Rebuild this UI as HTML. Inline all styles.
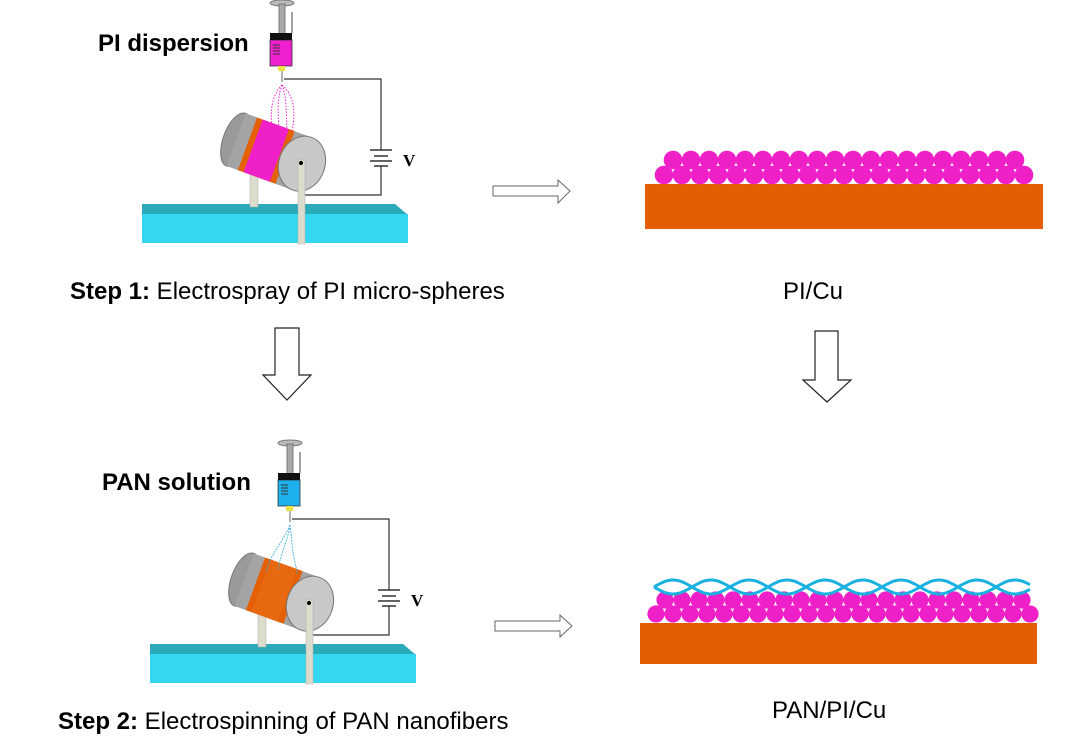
<!DOCTYPE html>
<html><head><meta charset="utf-8"><style>
html,body{margin:0;padding:0;background:#fff;}
svg{display:block;}
text{font-family:"Liberation Sans",Arial,sans-serif;}
#a1{--band2:#f020c8;--fluid:#f020d0}
#a2{--band2:#e86810;--fluid:#1eb0ee}
</style></head><body>
<svg id="s" width="1080" height="750" viewBox="0 0 1080 750" xmlns="http://www.w3.org/2000/svg">
<defs>
<g id="app">
  <polygon points="142,204 395,204 408,215 142,215" fill="#2aaab8"/>
  <rect x="142" y="214" width="266" height="29" fill="#34d6f0"/>
  <rect x="250" y="160" width="8" height="47" fill="#dcdccc" stroke="#aaa" stroke-width="0.5"/>
  <polyline points="284,79 381,79 381,150" fill="none" stroke="#333" stroke-width="1.2"/>
  <polyline points="381,166 381,195 303,195" fill="none" stroke="#333" stroke-width="1.2"/>
  <line x1="370" y1="150" x2="392" y2="150" stroke="#333" stroke-width="1.5"/>
  <line x1="374" y1="156" x2="388" y2="156" stroke="#333" stroke-width="1.5"/>
  <line x1="370" y1="161" x2="392" y2="161" stroke="#333" stroke-width="1.5"/>
  <line x1="374" y1="166" x2="388" y2="166" stroke="#333" stroke-width="1.5"/>
  <text x="403" y="166" style="font-family:'Liberation Serif',serif;font-weight:bold;font-size:17px">V</text>
  <g transform="rotate(20 270 152)">
    <ellipse cx="234" cy="152" rx="13" ry="28" fill="#9a9a9a" stroke="#777"/>
    <rect x="234" y="124" width="70" height="56" fill="#a4a4a4"/>
    <rect x="246" y="124" width="40" height="56" fill="#e46000"/>
    <rect x="252" y="124" width="28" height="56" style="fill:var(--band2)"/>
    <ellipse cx="304" cy="152" rx="23" ry="28" fill="#c8c8c8" stroke="#777"/>
  </g>
  <rect x="298" y="160" width="7" height="84" fill="#dcdccc" stroke="#aaa" stroke-width="0.5"/>
  <circle cx="301" cy="163" r="2" fill="#000"/>
  <ellipse cx="282" cy="3" rx="12" ry="3" fill="#bbb" stroke="#777"/>
  <rect x="279" y="4" width="6" height="30" fill="#aaa" stroke="#666" stroke-width="0.8"/>
  <line x1="292" y1="12" x2="292" y2="33" stroke="#444"/>
  <rect x="270" y="40" width="22" height="26" style="fill:var(--fluid)" stroke="#333" stroke-width="0.8"/>
  <rect x="270" y="33" width="22" height="7" fill="#111"/>
  <line x1="273" y1="45" x2="280" y2="45" stroke="#333"/><line x1="273" y1="48" x2="280" y2="48" stroke="#333"/><line x1="273" y1="51" x2="280" y2="51" stroke="#333"/><line x1="273" y1="54" x2="280" y2="54" stroke="#333"/>
  <rect x="278" y="66" width="7" height="5" fill="#f0e040"/>
  <line x1="282" y1="71" x2="282" y2="82" stroke="#666"/>
</g>
</defs>
<g id="a1"><use href="#app"/>
  <path d="M282,85 C272,95 270,110 272,126 M282,85 C277,98 278,112 279,128 M282,85 C287,98 286,112 287,130 M282,85 C294,95 296,112 292,132" fill="none" stroke="#f020d0" stroke-width="1" stroke-dasharray="1.5,1.5"/>
</g>
<g id="a2" transform="translate(8,440)"><use href="#app"/>
  <path d="M282,85 C276,100 262,115 258,132 M282,85 C280,100 272,115 270,130 M282,85 C284,100 284,115 290,134" fill="none" stroke="#30a8e0" stroke-width="0.8" stroke-dasharray="2,1"/>
</g>

<text x="98" y="51" font-size="24" font-weight="bold">PI dispersion</text>
<text x="70" y="299" font-size="24"><tspan font-weight="bold">Step 1:</tspan> Electrospray of PI micro-spheres</text>
<text x="783" y="299" font-size="24">PI/Cu</text>
<text x="102" y="490" font-size="24" font-weight="bold">PAN solution</text>
<text x="58" y="729" font-size="24"><tspan font-weight="bold">Step 2:</tspan> Electrospinning of PAN nanofibers</text>
<text x="772" y="718" font-size="24">PAN/PI/Cu</text>

<polygon points="493,186 558,186 558,180 570,191 558,203 558,196 493,196" fill="#fff" stroke="#666"/>
<polygon points="495,621 560,621 560,615 572,626 560,637 560,631 495,631" fill="#fff" stroke="#666"/>
<polygon points="275,328 299,328 299,375 311,375 287,400 263,375 275,375" fill="#fff" stroke="#222" stroke-width="1.2"/>
<polygon points="815,331 838,331 838,380 851,380 827,402 803,380 815,380" fill="#fff" stroke="#222" stroke-width="1.2"/>

<rect x="645" y="184" width="398" height="45" fill="#e35e00"/>
<rect x="640" y="623" width="397" height="41" fill="#e35e00"/>
<g id="c1" fill="#f020c8"></g>
<g id="c2" fill="#f020c8"></g>
<path id="w" fill="none" stroke="#1ab0e0" stroke-width="3"/>
</svg>
<script>
var ns="http://www.w3.org/2000/svg";
function c(g,x,y,r){var e=document.createElementNS(ns,"circle");e.setAttribute("cx",x);e.setAttribute("cy",y);e.setAttribute("r",r);document.getElementById(g).appendChild(e);}
for(var i=0;i<21;i++){c("c1",664+i*18,175,9.3);}
for(var i=0;i<20;i++){c("c1",673+i*18,160,9.3);}
for(var i=0;i<23;i++){c("c2",656+i*17,614,8.6);}
for(var i=0;i<22;i++){c("c2",665+i*17,600,8.6);}
var d="",d2="";
for(var x=654;x<=1030;x+=2){var s=Math.sin((x-654)/76*Math.PI*2);var y=587+7*s;var y2=587-7*s;d+=(x==654?"M":"L")+x+","+y.toFixed(1);d2+=(x==654?"M":"L")+x+","+y2.toFixed(1);}
document.getElementById("w").setAttribute("d",d+d2);
</script>
</body></html>
